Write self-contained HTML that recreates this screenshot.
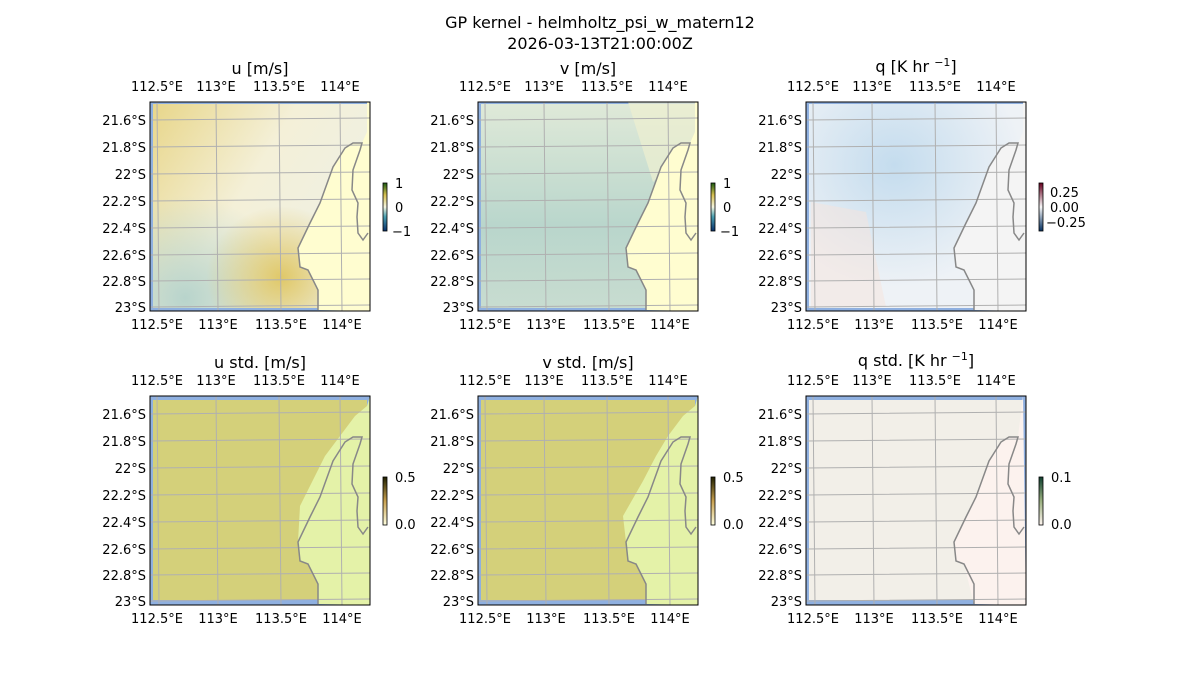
<!DOCTYPE html>
<html><head><meta charset="utf-8"><style>
body{margin:0;background:#fff}
svg{display:block;font-family:"DejaVu Sans","Liberation Sans",sans-serif}
text{font-size:13px;fill:#000}
.t{font-size:16px}
</style></head><body>
<svg width="1200" height="700" viewBox="0 0 1200 700">
<defs>
<path id="coast" d="M168,208 L168,188 L163,178 L158,168 L150,165 L148,146 L160,121 L170,101 L183,65 L195,46 L203,41 L212,41 L210,48 L203,68 L202,88 L208,101 L207,115 L208,131 L213,138 L218,131" fill="none" stroke="#888" stroke-width="1.5"/>
<g id="grid" stroke="#b0b0b0" stroke-width="1" fill="none">
<path d="M7,0 L9,209 M66,0 L68,209 M129,0 L131,209 M190,0 L192,209"/>
<path d="M0,18 L220,16 M0,45 L220,43 M0,72 L220,70 M0,99 L220,97 M0,126 L220,124 M0,153 L220,151 M0,179 L220,177 M0,205 L220,203"/>
</g>
<linearGradient id="u1" x1="0" y1="0" x2="1" y2="0.6"><stop offset="0" stop-color="#e8d68a"/><stop offset=".5" stop-color="#f4f0d8"/><stop offset="1" stop-color="#eef0e4"/></linearGradient>
<radialGradient id="uteal" cx=".15" cy=".95" r=".5"><stop offset="0" stop-color="#b8d4cc"/><stop offset="1" stop-color="#b8d4cc" stop-opacity="0"/></radialGradient>
<radialGradient id="uyel" cx=".6" cy=".85" r=".35"><stop offset="0" stop-color="#e0c868"/><stop offset="1" stop-color="#e0c868" stop-opacity="0"/></radialGradient>
<linearGradient id="v1" x1="0" y1="0" x2="0" y2="1"><stop offset="0" stop-color="#dfe9d8"/><stop offset=".6" stop-color="#b9d6cc"/><stop offset="1" stop-color="#c8dcd0"/></linearGradient>
<radialGradient id="q1" cx=".4" cy=".3" r=".6"><stop offset="0" stop-color="#c4dcee"/><stop offset="1" stop-color="#eef2f6"/></radialGradient>
<linearGradient id="cbg" x1="0" y1="1" x2="0" y2="0"><stop offset="0" stop-color="#08306b"/><stop offset=".3" stop-color="#4a9fb0"/><stop offset=".5" stop-color="#f5f5e0"/><stop offset=".75" stop-color="#d6bf50"/><stop offset="1" stop-color="#1a5a10"/></linearGradient>
<linearGradient id="cbr" x1="0" y1="1" x2="0" y2="0"><stop offset="0" stop-color="#053061"/><stop offset=".5" stop-color="#f7f7f7"/><stop offset="1" stop-color="#67001f"/></linearGradient>
<linearGradient id="cbs" x1="0" y1="1" x2="0" y2="0"><stop offset="0" stop-color="#ffffe0"/><stop offset=".5" stop-color="#c8a050"/><stop offset="1" stop-color="#202000"/></linearGradient>
<linearGradient id="cbq" x1="0" y1="1" x2="0" y2="0"><stop offset="0" stop-color="#fff5f0"/><stop offset=".5" stop-color="#9ab080"/><stop offset="1" stop-color="#104030"/></linearGradient>
</defs>
<text x="600" y="28" text-anchor="middle" class="t">GP kernel - helmholtz_psi_w_matern12</text>
<text x="600" y="49" text-anchor="middle" class="t">2026-03-13T21:00:00Z</text>

<g transform="translate(150,102)">
<rect width="220" height="209" fill="#8fb0e0"/>
<rect x="3" y="2" width="214" height="204" fill="url(#u1)"/>
<rect x="3" y="2" width="214" height="204" fill="url(#uteal)"/>
<rect x="3" y="2" width="214" height="204" fill="url(#uyel)"/>
<path d="M168,208 L168,188 L163,178 L158,168 L150,165 L148,146 L160,121 L170,101 L183,65 L195,46 L203,41 L212,41 L217,30 L217,0 L220,0 L220,209Z" fill="#fffdd0"/>
</g>
<g transform="translate(478,102)">
<rect width="220" height="209" fill="#8fb0e0"/>
<rect x="3" y="2" width="214" height="204" fill="url(#v1)"/>
<path d="M150,0 L217,0 L217,40 L175,80Z" fill="#eef0d0" opacity=".7"/>
<path d="M168,208 L168,188 L163,178 L158,168 L150,165 L148,146 L160,121 L170,101 L183,65 L195,46 L203,41 L212,41 L217,30 L217,0 L220,0 L220,209Z" fill="#fffdd0"/>
</g>
<g transform="translate(806,102)">
<rect width="220" height="209" fill="#8fb0e0"/>
<rect x="3" y="2" width="214" height="204" fill="url(#q1)"/>
<path d="M5,100 L60,110 L80,205 L5,205Z" fill="#f6e4dc" opacity=".5"/>
<path d="M168,208 L168,188 L163,178 L158,168 L150,165 L148,146 L160,121 L170,101 L183,65 L195,46 L203,41 L212,41 L217,30 L217,0 L220,0 L220,209Z" fill="#f4f4f4"/>
</g>
<g transform="translate(150,396)">
<rect width="220" height="209" fill="#8fb0e0"/>
<rect x="3" y="4" width="214" height="200" fill="#d4d07a"/>
<path d="M168,208 L168,188 L163,178 L158,168 L150,165 L148,146 L150,110 L165,80 L175,60 L190,40 L205,20 L217,10 L220,0 L220,209Z" fill="#e4f2a8"/>
</g>
<g transform="translate(478,396)">
<rect width="220" height="209" fill="#8fb0e0"/>
<rect x="3" y="4" width="214" height="200" fill="#d4d07a"/>
<path d="M168,208 L168,188 L163,178 L158,168 L150,165 L148,146 L145,120 L165,85 L178,60 L190,40 L205,20 L217,10 L220,0 L220,209Z" fill="#e4f2a8"/>
</g>
<g transform="translate(806,396)">
<rect width="220" height="209" fill="#8fb0e0"/>
<rect x="3" y="4" width="214" height="200" fill="#f2efe8"/>
<path d="M158,168 L150,165 L148,146 L160,121 L170,101 L183,65 L195,46 L203,41 L212,41 L217,0 L220,209 L168,208Z" fill="#fcf2ee"/>
</g>

<g>
<g transform="translate(150,102)"><use href="#grid"/><use href="#coast"/><rect width="220" height="209" fill="none" stroke="#000"/></g>
<g transform="translate(478,102)"><use href="#grid"/><use href="#coast"/><rect width="220" height="209" fill="none" stroke="#000"/></g>
<g transform="translate(806,102)"><use href="#grid"/><use href="#coast"/><rect width="220" height="209" fill="none" stroke="#000"/></g>
<g transform="translate(150,396)"><use href="#grid"/><use href="#coast"/><rect width="220" height="209" fill="none" stroke="#000"/></g>
<g transform="translate(478,396)"><use href="#grid"/><use href="#coast"/><rect width="220" height="209" fill="none" stroke="#000"/></g>
<g transform="translate(806,396)"><use href="#grid"/><use href="#coast"/><rect width="220" height="209" fill="none" stroke="#000"/></g>
</g>

<g transform="translate(150,102)"><text x="110" y="-28" text-anchor="middle" class="t">u [m/s]</text></g>
<g transform="translate(478,102)"><text x="110" y="-28" text-anchor="middle" class="t">v [m/s]</text></g>
<g transform="translate(806,102)"><text x="110" y="-30" text-anchor="middle" class="t">q [K hr <tspan font-size="11" dy="-6">−1</tspan><tspan dy="6">]</tspan></text></g>
<g transform="translate(150,396)"><text x="110" y="-28" text-anchor="middle" class="t">u std. [m/s]</text></g>
<g transform="translate(478,396)"><text x="110" y="-28" text-anchor="middle" class="t">v std. [m/s]</text></g>
<g transform="translate(806,396)"><text x="110" y="-30" text-anchor="middle" class="t">q std. [K hr <tspan font-size="11" dy="-6">−1</tspan><tspan dy="6">]</tspan></text></g>

<g id="ticks">
<g transform="translate(150,102)">
<text x="7" y="-11" text-anchor="middle">112.5°E</text><text x="66" y="-11" text-anchor="middle">113°E</text><text x="129" y="-11" text-anchor="middle">113.5°E</text><text x="190" y="-11" text-anchor="middle">114°E</text>
<text x="7" y="227" text-anchor="middle">112.5°E</text><text x="68" y="227" text-anchor="middle">113°E</text><text x="131" y="227" text-anchor="middle">113.5°E</text><text x="192" y="227" text-anchor="middle">114°E</text>
<g text-anchor="end"><text x="-4" y="23">21.6°S</text><text x="-4" y="50">21.8°S</text><text x="-4" y="77">22°S</text><text x="-4" y="104">22.2°S</text><text x="-4" y="131">22.4°S</text><text x="-4" y="158">22.6°S</text><text x="-4" y="184">22.8°S</text><text x="-4" y="210">23°S</text></g>
</g>
</g>
<use href="#ticks" transform="translate(328,0)"/>
<use href="#ticks" transform="translate(656,0)"/>
<use href="#ticks" transform="translate(0,294)"/>
<use href="#ticks" transform="translate(328,294)"/>
<use href="#ticks" transform="translate(656,294)"/>

<g>
<rect x="383" y="183" width="4" height="48" fill="url(#cbg)" stroke="#000" stroke-width=".8"/>
<text x="395" y="188">1</text><text x="395" y="212">0</text><text x="392" y="236">−1</text>
<rect x="711" y="183" width="4" height="48" fill="url(#cbg)" stroke="#000" stroke-width=".8"/>
<text x="723" y="188">1</text><text x="723" y="212">0</text><text x="720" y="236">−1</text>
<rect x="1039" y="183" width="4" height="48" fill="url(#cbr)" stroke="#000" stroke-width=".8"/>
<text x="1050" y="197">0.25</text><text x="1050" y="212">0.00</text><text x="1046" y="227">−0.25</text>
<rect x="383" y="477" width="4" height="48" fill="url(#cbs)" stroke="#000" stroke-width=".8"/>
<text x="395" y="482">0.5</text><text x="395" y="529">0.0</text>
<rect x="711" y="477" width="4" height="48" fill="url(#cbs)" stroke="#000" stroke-width=".8"/>
<text x="723" y="482">0.5</text><text x="723" y="529">0.0</text>
<rect x="1039" y="477" width="4" height="48" fill="url(#cbq)" stroke="#000" stroke-width=".8"/>
<text x="1051" y="482">0.1</text><text x="1051" y="529">0.0</text>
</g>
</svg>
</body></html>
